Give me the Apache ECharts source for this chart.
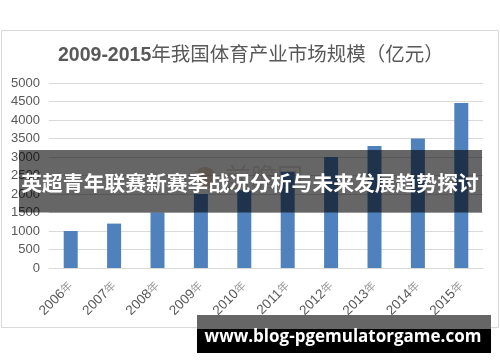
<!DOCTYPE html>
<html><head><meta charset="utf-8">
<script src="https://cdn.jsdelivr.net/npm/echarts@6/dist/echarts.min.js"></script>
<style>html,body{margin:0;padding:0;background:#fff}#c{width:500px;height:362px}</style>
</head><body><div id="c"></div>
<script>
const categories = ['2006', '2007', '2008', '2009', '2010', '2011', '2012', '2013', '2014', '2015'];
const marketSize = [1000, 1200, 1500, 2000, 2100, 2600, 3000, 3300, 3500, 4460];
const yMin = 0, yMax = 5000, yStep = 500;
const titleBold = '2009-2015';
const titleRest = '年我国体育产业市场规模（亿元）';
const yearSuffix = '年';
const bannerText = '英超青年联赛新赛季战况分析与未来发展趋势探讨';
const footerText = 'www.blog-pgemulatorgame.com';
const watermarkText = '前瞻网';

const chart = echarts.init(document.getElementById('c'));
const latin = '"Liberation Sans", Arial, sans-serif';
const cjk = '"Liberation Sans", "Noto Sans CJK SC", sans-serif';
chart.setOption({
  animation: false,
  backgroundColor: '#fff',
  title: {
    left: 53, top: 41,
    text: '{b|' + titleBold + '}{n|' + titleRest + '}',
    textStyle: {
      rich: {
        b: {fontFamily: latin, fontWeight: 'bold', fontSize: 19.5, color: '#595959'},
        n: {fontFamily: cjk, fontWeight: 'normal', fontSize: 19.5, color: '#595959'}
      }
    }
  },
  grid: {left: 49, right: 17, top: 83, bottom: 94, containLabel: false},
  xAxis: {
    type: 'category', data: categories,
    axisLine: {lineStyle: {color: '#d9d9d9', width: 1}},
    axisTick: {show: false},
    axisLabel: {
      rotate: 45, margin: 16, interval: 0,
      formatter: v => '{y|' + v + '}{n|' + yearSuffix + '}',
      rich: {
        y: {fontFamily: latin, fontSize: 13.5, color: '#595959'},
        n: {fontFamily: cjk, fontSize: 11, color: '#9a9a9a'}
      }
    }
  },
  yAxis: {
    type: 'value', min: yMin, max: yMax, interval: yStep,
    axisLine: {show: false}, axisTick: {show: false},
    splitLine: {lineStyle: {color: '#d9d9d9', width: 1}},
    axisLabel: {margin: 9, fontFamily: latin, fontSize: 13, color: '#595959',
                formatter: v => String(v)}
  },
  series: [{
    type: 'bar', data: marketSize, barWidth: 14,
    itemStyle: {color: '#4f81bd'}, z: 2
  }],
  graphic: [
    {type: 'rect', z: -10, silent: true, shape: {x: 1.5, y: 30.5, width: 497, height: 297},
     style: {fill: 'none', stroke: '#d9d9d9', lineWidth: 1}},
    {type: 'text', z: 1, left: 225, top: 164,
     style: {text: watermarkText, fontFamily: '"Noto Sans CJK SC"', fontSize: 26, fill: 'rgba(170,150,140,0.3)'}},
    {type: 'circle', z: 1, shape: {cx: 205, cy: 178, r: 11},
     style: {fill: 'rgba(210,120,70,0.3)'}},
    {type: 'rect', z: 100, shape: {x: 19, y: 150, width: 463, height: 62.5},
     style: {fill: 'rgba(0,0,0,0.6)'}},
    {type: 'text', z: 101, x: 250, y: 183,
     style: {text: bannerText, fontFamily: '"Noto Sans CJK SC"', fontWeight: 'bold', fontSize: 20.8, fill: '#fff',
             align: 'center', verticalAlign: 'middle'}},
    {type: 'rect', z: 100, shape: {x: 197, y: 315, width: 294, height: 14},
     style: {fill: '#666'}},
    {type: 'rect', z: 100, shape: {x: 197, y: 329, width: 294, height: 24},
     style: {fill: '#000'}},
    {type: 'text', z: 101, x: 343, y: 337,
     style: {text: footerText, fontFamily: '"Open Sans"', fontWeight: 'bold', fontSize: 17, fill: '#fff',
             align: 'center', verticalAlign: 'middle'}}
  ]
});
</script></body></html>
